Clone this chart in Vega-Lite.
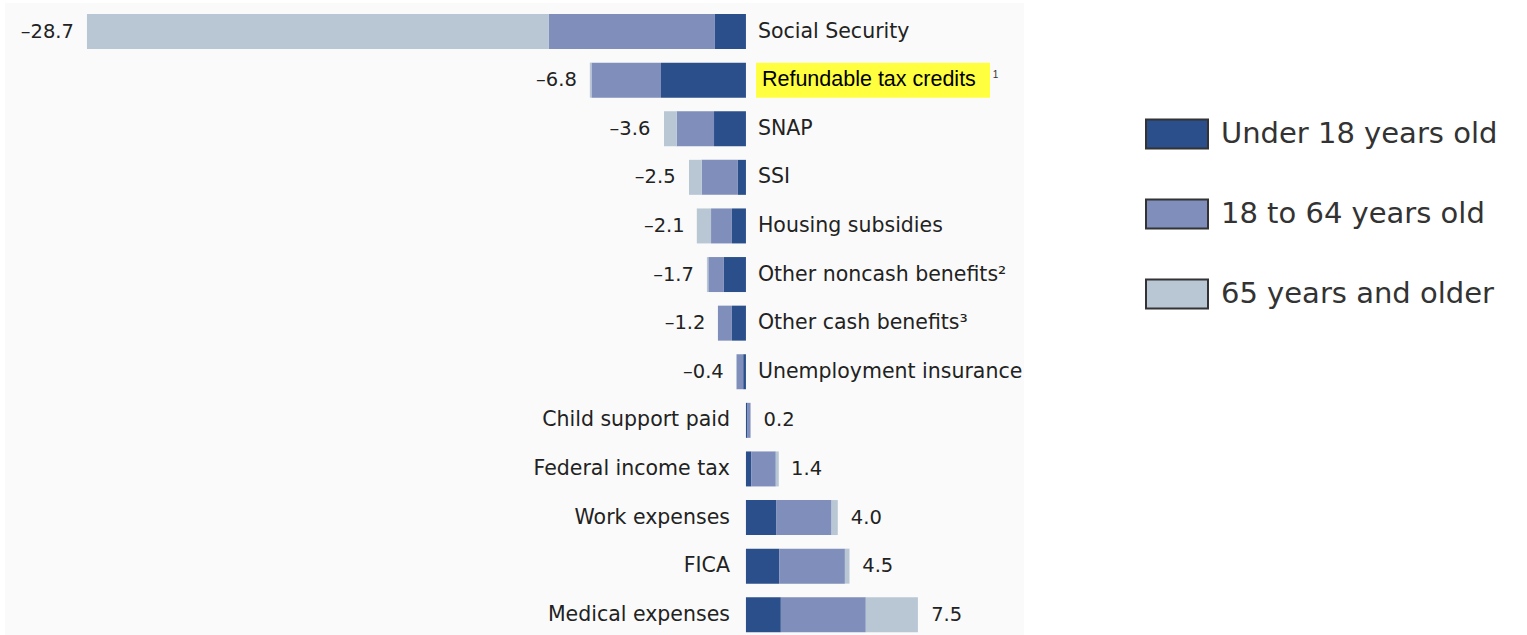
{
  "$schema": "https://vega.github.io/schema/vega-lite/v6.json",
  "width": 1019,
  "height": 632,
  "padding": {"left": 5, "top": 3, "right": 0, "bottom": 0},
  "autosize": {"type": "pad"},
  "background": "white",
  "config": {"view": {"fill": "#fafafa", "stroke": null}, "font": "DejaVu Sans"},
  "datasets": {
    "segments": [
      {"item": "Social Security", "group": "Under 18 years old", "ord": 1, "value": -1.35},
      {"item": "Social Security", "group": "18 to 64 years old", "ord": 2, "value": -7.23},
      {"item": "Social Security", "group": "65 years and older", "ord": 3, "value": -20.12},
      {"item": "Refundable tax credits", "group": "Under 18 years old", "ord": 1, "value": -3.7},
      {"item": "Refundable tax credits", "group": "18 to 64 years old", "ord": 2, "value": -3.03},
      {"item": "Refundable tax credits", "group": "65 years and older", "ord": 3, "value": -0.07},
      {"item": "SNAP", "group": "Under 18 years old", "ord": 1, "value": -1.39},
      {"item": "SNAP", "group": "18 to 64 years old", "ord": 2, "value": -1.63},
      {"item": "SNAP", "group": "65 years and older", "ord": 3, "value": -0.55},
      {"item": "SSI", "group": "Under 18 years old", "ord": 1, "value": -0.35},
      {"item": "SSI", "group": "18 to 64 years old", "ord": 2, "value": -1.58},
      {"item": "SSI", "group": "65 years and older", "ord": 3, "value": -0.55},
      {"item": "Housing subsidies", "group": "Under 18 years old", "ord": 1, "value": -0.61},
      {"item": "Housing subsidies", "group": "18 to 64 years old", "ord": 2, "value": -0.91},
      {"item": "Housing subsidies", "group": "65 years and older", "ord": 3, "value": -0.62},
      {"item": "Other noncash benefits²", "group": "Under 18 years old", "ord": 1, "value": -0.96},
      {"item": "Other noncash benefits²", "group": "18 to 64 years old", "ord": 2, "value": -0.68},
      {"item": "Other noncash benefits²", "group": "65 years and older", "ord": 3, "value": -0.06},
      {"item": "Other cash benefits³", "group": "Under 18 years old", "ord": 1, "value": -0.61},
      {"item": "Other cash benefits³", "group": "18 to 64 years old", "ord": 2, "value": -0.61},
      {"item": "Other cash benefits³", "group": "65 years and older", "ord": 3, "value": 0},
      {"item": "Unemployment insurance", "group": "Under 18 years old", "ord": 1, "value": -0.12},
      {"item": "Unemployment insurance", "group": "18 to 64 years old", "ord": 2, "value": -0.29},
      {"item": "Unemployment insurance", "group": "65 years and older", "ord": 3, "value": -0.01},
      {"item": "Child support paid", "group": "Under 18 years old", "ord": 1, "value": 0.07},
      {"item": "Child support paid", "group": "18 to 64 years old", "ord": 2, "value": 0.13},
      {"item": "Child support paid", "group": "65 years and older", "ord": 3, "value": 0},
      {"item": "Federal income tax", "group": "Under 18 years old", "ord": 1, "value": 0.23},
      {"item": "Federal income tax", "group": "18 to 64 years old", "ord": 2, "value": 1.07},
      {"item": "Federal income tax", "group": "65 years and older", "ord": 3, "value": 0.13},
      {"item": "Work expenses", "group": "Under 18 years old", "ord": 1, "value": 1.33},
      {"item": "Work expenses", "group": "18 to 64 years old", "ord": 2, "value": 2.4},
      {"item": "Work expenses", "group": "65 years and older", "ord": 3, "value": 0.27},
      {"item": "FICA", "group": "Under 18 years old", "ord": 1, "value": 1.45},
      {"item": "FICA", "group": "18 to 64 years old", "ord": 2, "value": 2.86},
      {"item": "FICA", "group": "65 years and older", "ord": 3, "value": 0.2},
      {"item": "Medical expenses", "group": "Under 18 years old", "ord": 1, "value": 1.52},
      {"item": "Medical expenses", "group": "18 to 64 years old", "ord": 2, "value": 3.7},
      {"item": "Medical expenses", "group": "65 years and older", "ord": 3, "value": 2.27}
    ],
    "totals": [
      {"item": "Social Security", "total": -28.7, "label": "–28.7"},
      {"item": "Refundable tax credits", "total": -6.8, "label": "–6.8"},
      {"item": "SNAP", "total": -3.6, "label": "–3.6"},
      {"item": "SSI", "total": -2.5, "label": "–2.5"},
      {"item": "Housing subsidies", "total": -2.1, "label": "–2.1"},
      {"item": "Other noncash benefits²", "total": -1.7, "label": "–1.7"},
      {"item": "Other cash benefits³", "total": -1.2, "label": "–1.2"},
      {"item": "Unemployment insurance", "total": -0.4, "label": "–0.4"},
      {"item": "Child support paid", "total": 0.2, "label": "0.2"},
      {"item": "Federal income tax", "total": 1.4, "label": "1.4"},
      {"item": "Work expenses", "total": 4.0, "label": "4.0"},
      {"item": "FICA", "total": 4.5, "label": "4.5"},
      {"item": "Medical expenses", "total": 7.5, "label": "7.5"}
    ]
  },
  "encoding": {
    "y": {
      "field": "item",
      "type": "nominal",
      "axis": null,
      "sort": ["Social Security", "Refundable tax credits", "SNAP", "SSI", "Housing subsidies", "Other noncash benefits²", "Other cash benefits³", "Unemployment insurance", "Child support paid", "Federal income tax", "Work expenses", "FICA", "Medical expenses"],
      "scale": {"paddingInner": 0.28, "paddingOuter": 0.142, "align": 0.8}
    }
  },
  "layer": [
    {
      "data": {"name": "totals"},
      "transform": [{"filter": "datum.item === 'Refundable tax credits'"}],
      "mark": {"type": "bar", "color": "#ffff40"},
      "encoding": {
        "x": {"datum": 0.44, "type": "quantitative", "axis": null, "scale": {"domain": [-32.27, 12.11], "nice": false, "zero": false}},
        "x2": {"datum": 10.63}
      }
    },
    {
      "data": {"name": "segments"},
      "mark": {"type": "bar"},
      "encoding": {
        "x": {"field": "value", "type": "quantitative", "stack": "zero", "axis": null, "scale": {"domain": [-32.27, 12.11], "nice": false, "zero": false}},
        "color": {
          "field": "group",
          "type": "nominal",
          "scale": {"domain": ["Under 18 years old", "18 to 64 years old", "65 years and older"], "range": ["#2b4f8b", "#7f8eba", "#b9c7d5"]},
          "legend": {
            "orient": "none",
            "legendX": 1140,
            "legendY": 99,
            "title": null,
            "padding": 0,
            "symbolType": "M-1,-0.468H1V0.468H-1Z",
            "symbolSize": 3844,
            "symbolStrokeColor": "#333333",
            "symbolStrokeWidth": 2,
            "symbolOpacity": 1,
            "labelFontSize": 29,
            "labelFont": "DejaVu Sans",
            "labelColor": "#333333",
            "labelOffset": 12,
            "labelLimit": 500,
            "rowPadding": 29
          }
        },
        "order": {"field": "ord", "type": "quantitative"}
      }
    },
    {
      "data": {"name": "totals"},
      "transform": [{"filter": "datum.total < 0 && datum.item !== 'Refundable tax credits'"}],
      "mark": {"type": "text", "align": "left", "baseline": "middle", "dx": 12, "fontSize": 20.5, "color": "#222222"},
      "encoding": {
        "x": {"datum": 0, "type": "quantitative", "scale": {"domain": [-32.27, 12.11], "nice": false, "zero": false}},
        "text": {"field": "item"}
      }
    },
    {
      "data": {"name": "totals"},
      "transform": [{"filter": "datum.item === 'Refundable tax credits'"}],
      "mark": {"type": "text", "align": "left", "baseline": "middle", "dx": 16, "fontSize": 21.5, "font": "Liberation Sans", "color": "#000000"},
      "encoding": {
        "x": {"datum": 0, "type": "quantitative", "scale": {"domain": [-32.27, 12.11], "nice": false, "zero": false}},
        "text": {"field": "item"}
      }
    },
    {
      "data": {"name": "totals"},
      "transform": [{"filter": "datum.item === 'Refundable tax credits'"}],
      "mark": {"type": "text", "align": "left", "baseline": "middle", "dy": -5, "fontSize": 10, "font": "Liberation Sans", "color": "#333333"},
      "encoding": {
        "x": {"datum": 10.75, "type": "quantitative", "scale": {"domain": [-32.27, 12.11], "nice": false, "zero": false}},
        "text": {"value": "1"}
      }
    },
    {
      "data": {"name": "totals"},
      "transform": [{"filter": "datum.total > 0"}],
      "mark": {"type": "text", "align": "right", "baseline": "middle", "dx": -16, "fontSize": 20.5, "color": "#222222"},
      "encoding": {
        "x": {"datum": 0, "type": "quantitative", "scale": {"domain": [-32.27, 12.11], "nice": false, "zero": false}},
        "text": {"field": "item"}
      }
    },
    {
      "data": {"name": "totals"},
      "transform": [{"filter": "datum.total < 0"}],
      "mark": {"type": "text", "align": "right", "baseline": "middle", "dx": -13, "fontSize": 19.5, "color": "#222222"},
      "encoding": {
        "x": {"field": "total", "type": "quantitative", "scale": {"domain": [-32.27, 12.11], "nice": false, "zero": false}},
        "text": {"field": "label"}
      }
    },
    {
      "data": {"name": "totals"},
      "transform": [{"filter": "datum.total > 0"}],
      "mark": {"type": "text", "align": "left", "baseline": "middle", "dx": 13, "fontSize": 19.5, "color": "#222222"},
      "encoding": {
        "x": {"field": "total", "type": "quantitative", "scale": {"domain": [-32.27, 12.11], "nice": false, "zero": false}},
        "text": {"field": "label"}
      }
    }
  ]
}
